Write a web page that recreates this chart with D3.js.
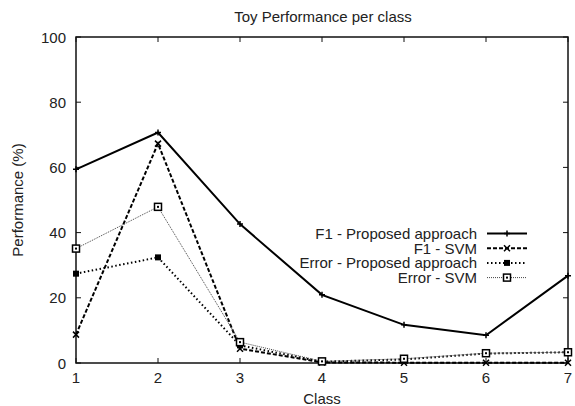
<!DOCTYPE html>
<html>
<head>
<meta charset="utf-8">
<script src="https://cdn.jsdelivr.net/npm/d3@7"></script>
<style>
  body { margin: 0; background: #fff; }
  text { font-family: "Liberation Sans", Arial, sans-serif; fill: #222; }
</style>
</head>
<body>
<div id="chart"></div>
<script>
// data
const classes = [1, 2, 3, 4, 5, 6, 7]
const f1Proposed = [59.4, 70.7, 42.6, 20.9, 11.7, 8.5, 26.8]
const f1Svm = [8.7, 67.3, 4.4, 0.2, 0.1, 0.1, 0.1]
const errProposed = [27.4, 32.4, 5.4, 0.4, 1.1, 2.9, 3.3]
const errSvm = [35.1, 47.9, 6.4, 0.5, 1.3, 3.0, 3.3]
const yTicks = [0, 20, 40, 60, 80, 100]
const seriesNames = ["F1 - Proposed approach", "F1 - SVM", "Error - Proposed approach", "Error - SVM"]

const width = 575, height = 406
const margin = { top: 37, right: 7, bottom: 43, left: 76 }
const fs = 15

const svg = d3.select("#chart").append("svg")
  .attr("width", width).attr("height", height)

const x = d3.scaleLinear().domain([1, 7]).range([margin.left, width - margin.right])
const y = d3.scaleLinear().domain([0, 100]).range([height - margin.bottom, margin.top])

// ticks pointing inward, mirrored (gnuplot style)
const tickLen = 5
const axisG = svg.append("g").attr("stroke", "#111").attr("stroke-width", 1)
yTicks.forEach(t => {
  axisG.append("line").attr("x1", x(1)).attr("x2", x(1) + tickLen).attr("y1", y(t)).attr("y2", y(t))
  axisG.append("line").attr("x1", x(7)).attr("x2", x(7) - tickLen).attr("y1", y(t)).attr("y2", y(t))
})
classes.forEach(c => {
  axisG.append("line").attr("x1", x(c)).attr("x2", x(c)).attr("y1", y(0)).attr("y2", y(0) - tickLen)
  axisG.append("line").attr("x1", x(c)).attr("x2", x(c)).attr("y1", y(100)).attr("y2", y(100) + tickLen)
})
svg.append("rect")
  .attr("x", x(1)).attr("y", y(100))
  .attr("width", x(7) - x(1)).attr("height", y(0) - y(100))
  .attr("fill", "none").attr("stroke", "#111").attr("stroke-width", 1.5)

svg.append("g").selectAll("text").data(yTicks).join("text")
  .attr("x", x(1) - 10).attr("y", d => y(d) + 5.5)
  .attr("text-anchor", "end").attr("font-size", fs)
  .text(d => d)
svg.append("g").selectAll("text").data(classes).join("text")
  .attr("x", d => x(d)).attr("y", y(0) + 19.5)
  .attr("text-anchor", "middle").attr("font-size", fs)
  .text(d => d)

svg.append("text").attr("x", 323).attr("y", 22)
  .attr("text-anchor", "middle").attr("font-size", fs)
  .text("Toy Performance per class")
svg.append("text").attr("x", 322).attr("y", 404)
  .attr("text-anchor", "middle").attr("font-size", fs)
  .text("Class")
svg.append("text")
  .attr("transform", `translate(23 ${(y(0) + y(100)) / 2}) rotate(-90)`)
  .attr("text-anchor", "middle").attr("font-size", fs)
  .text("Performance (%)")

// series styles
const styles = [
  { data: f1Proposed, width: 2, dash: null, color: "#000", marker: "plus" },
  { data: f1Svm, width: 2, dash: "4,2", color: "#000", marker: "cross" },
  { data: errProposed, width: 2, dash: "1.5,2.5", color: "#000", marker: "fsquare" },
  { data: errSvm, width: 1, dash: "1,1", color: "#444", marker: "osquare" }
]

const line = d3.line().x((d, i) => x(classes[i])).y(d => y(d))

function drawMarker(g, type, cx, cy) {
  if (type === "plus") {
    g.append("path").attr("d", `M${cx - 3},${cy}H${cx + 3}M${cx},${cy - 3}V${cy + 3}`)
      .attr("stroke", "#000").attr("stroke-width", 1.5)
  } else if (type === "cross") {
    g.append("path").attr("d", `M${cx - 3},${cy - 3}L${cx + 3},${cy + 3}M${cx - 3},${cy + 3}L${cx + 3},${cy - 3}`)
      .attr("stroke", "#000").attr("stroke-width", 1.5)
  } else if (type === "fsquare") {
    g.append("rect").attr("x", cx - 3).attr("y", cy - 3).attr("width", 6).attr("height", 6)
      .attr("fill", "#000")
  } else {
    g.append("rect").attr("x", cx - 3.5).attr("y", cy - 3.5).attr("width", 7).attr("height", 7)
      .attr("fill", "#fff").attr("stroke", "#000").attr("stroke-width", 1.5)
    g.append("rect").attr("x", cx - 1).attr("y", cy - 1).attr("width", 2).attr("height", 2).attr("fill", "#000")
  }
}

styles.forEach(s => {
  const g = svg.append("g")
  g.append("path").datum(s.data)
    .attr("d", line)
    .attr("fill", "none")
    .attr("stroke", s.color)
    .attr("stroke-width", s.width)
    .attr("stroke-dasharray", s.dash)
  s.data.forEach((v, i) => drawMarker(g, s.marker, x(classes[i]), y(v)))
})

// legend
const legX = 477, legY0 = 233.5, legStep = 14.7
styles.forEach((s, i) => {
  const ly = legY0 + i * legStep
  svg.append("text").attr("x", legX).attr("y", ly + 5.5)
    .attr("text-anchor", "end").attr("font-size", fs)
    .text(seriesNames[i])
  svg.append("line").attr("x1", legX + 10).attr("x2", legX + 50).attr("y1", ly).attr("y2", ly)
    .attr("stroke", s.color).attr("stroke-width", s.width).attr("stroke-dasharray", s.dash)
  drawMarker(svg.append("g"), s.marker, legX + 30, ly)
})
</script>
</body>
</html>
